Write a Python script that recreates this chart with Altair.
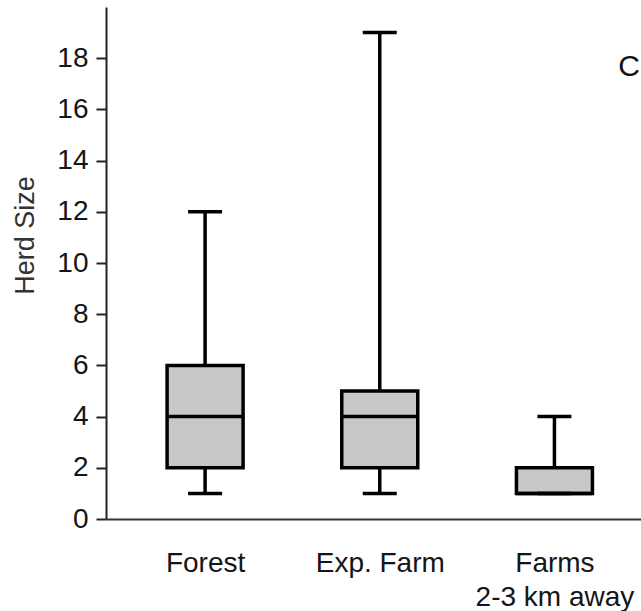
import altair as alt
import pandas as pd

categories = ["Forest", "Exp. Farm", "Farms|2-3 km away"]
positions = [1, 2, 3]
mins = [1, 1, 1]
q1s = [2, 2, 1]
medians = [4, 4, 1]
q3s = [6, 5, 2]
maxs = [12, 19, 4]
y_ticks = [0, 2, 4, 6, 8, 10, 12, 14, 16, 18]

df = pd.DataFrame({
    "pos": positions, "cat": categories, "lo": mins, "q1": q1s,
    "med": medians, "q3": q3s, "hi": maxs,
})

FONT = "Liberation Sans"
TXT = "#151515"

label_map = "{" + ",".join(
    f"'{p}': {str(c.split('|'))}" for p, c in zip(positions, categories)
) + "}"

x_enc = alt.X(
    "pos:Q",
    scale=alt.Scale(domain=[0.4613, 3.467], nice=False, zero=False),
    axis=alt.Axis(
        values=positions, labelExpr=f"{label_map}[datum.value + '']",
        title=None, grid=False, ticks=False, tickSize=0, labelPadding=30,
        labelFontSize=28, labelFont=FONT, labelColor=TXT, labelLineHeight=34,
        domainColor="#333333", domainWidth=2, labelBaseline="top",
    ),
)
y_scale = alt.Scale(domain=[0, 20], nice=False)
y_axis = alt.Axis(
    values=y_ticks, title="Herd Size", grid=False, tickSize=10, tickWidth=2,
    tickColor="#222222", domainColor="#222222", domainWidth=2,
    labelFontSize=28, labelFont=FONT, labelColor=TXT, labelPadding=8,
    titleFontSize=27, titleFont=FONT, titleColor="#333333",
    titleFontWeight="normal", titlePadding=17, titleY=228,
)

base = alt.Chart(df)

whisk_low = base.mark_rule(color="black", strokeWidth=3.5).encode(
    x=x_enc, y=alt.Y("lo:Q", scale=y_scale, axis=y_axis), y2="q1:Q")
whisk_high = base.mark_rule(color="black", strokeWidth=3.5).encode(
    x="pos:Q", y="q3:Q", y2="hi:Q")
box = base.mark_bar(size=76, fill="#c8c8c8", stroke="black",
                    strokeWidth=3.5).encode(x="pos:Q", y="q1:Q", y2="q3:Q")
med = base.mark_tick(orient="horizontal", size=76, thickness=3.5,
                     color="black", opacity=1).encode(x="pos:Q", y="med:Q")
cap_lo = base.mark_tick(orient="horizontal", size=34, thickness=3.5,
                        color="black", opacity=1).encode(x="pos:Q", y="lo:Q")
cap_hi = base.mark_tick(orient="horizontal", size=34, thickness=3.5,
                        color="black", opacity=1).encode(x="pos:Q", y="hi:Q")

panel = alt.Chart(pd.DataFrame({"t": ["C"]})).mark_text(
    fontSize=30, font=FONT, color="#111111", align="center", baseline="middle"
).encode(x=alt.value(523), y=alt.value(60), text="t:N")

chart = alt.layer(whisk_low, whisk_high, box, med, cap_lo, cap_hi, panel).properties(
    width=535, height=512,
    autosize=alt.AutoSizeParams(type="none"),
    padding={"left": 106, "top": 7, "right": 0, "bottom": 92},
).configure_view(stroke=None)

chart.save("out.html", embed_options={"renderer": "svg", "actions": False})
